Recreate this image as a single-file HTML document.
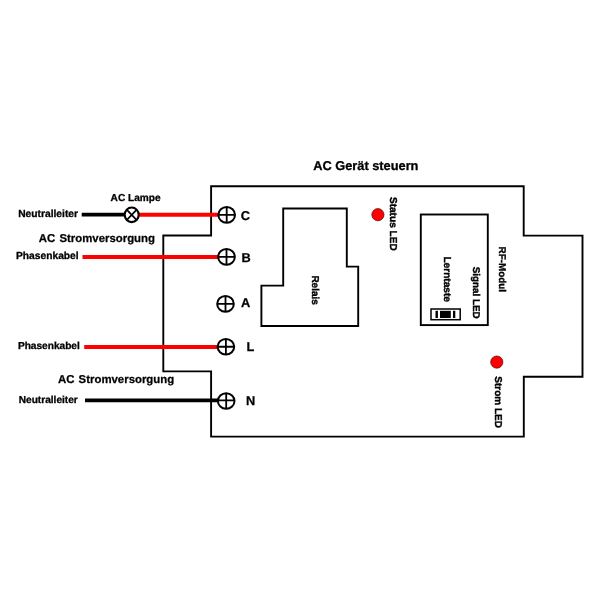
<!DOCTYPE html>
<html lang="de">
<head>
<meta charset="utf-8">
<title>AC Gerät steuern</title>
<style>
html,body{margin:0;padding:0;background:#fff;}
body{width:600px;height:600px;overflow:hidden;}
svg{display:block;will-change:transform;}
text{font-family:"Liberation Sans",Arial,sans-serif;font-weight:bold;fill:#000;text-rendering:geometricPrecision;stroke:#000;stroke-width:0.4px;stroke-linejoin:round;}
.s{font-size:10.25px;stroke-width:0.3px;}
.r{font-size:10px;}
.m{font-size:11.4px;stroke-width:0.25px;}
.t{font-size:12.8px;stroke-width:0.3px;}
.l{font-size:12.8px;stroke-width:0.25px;}
</style>
</head>
<body>
<svg width="600" height="600" viewBox="0 0 600 600">
<rect width="600" height="600" fill="#fff"/>
<!-- outline -->
<g fill="none" stroke="#000" stroke-width="1.9" stroke-linejoin="miter">
<path d="M211.1 186.2 H523.7 V235.6 H582.5 V376.8 H523.8 V436.6 H211.1 V371.4 H163.3 V235.5 H211.1 Z"/>
<path d="M283.2 208.5 H346.8 V266.6 H358.2 V326 H261.4 V285.6 H283.2 Z"/>
<rect x="420.8" y="214.5" width="67" height="110.6"/>
</g>
<!-- wires -->
<g fill="none" stroke-linecap="butt">
<line x1="81.7" y1="214.7" x2="125" y2="214.7" stroke="#000" stroke-width="3.7"/>
<line x1="138" y1="214.75" x2="219" y2="214.75" stroke="#f00" stroke-width="4"/>
<line x1="82.5" y1="257" x2="218" y2="257" stroke="#f00" stroke-width="4"/>
<line x1="84.2" y1="347.1" x2="218" y2="347.1" stroke="#f00" stroke-width="4"/>
<line x1="85" y1="400.35" x2="218" y2="400.35" stroke="#000" stroke-width="3.6"/>
</g>
<!-- lamp -->
<g fill="#fff" stroke="#000" stroke-width="2.1">
<ellipse cx="131.7" cy="214.8" rx="7" ry="7.3"/>
<path d="M126.9 209.8 L136.5 219.8 M136.5 209.8 L126.9 219.8" fill="none" stroke-width="1.7"/>
</g>
<!-- terminals -->
<g fill="#fff" stroke="#000" stroke-width="2">
<g><ellipse cx="226.7" cy="214.9" rx="8.3" ry="7.85"/><path d="M226.7 207.05 V222.75 M218.40 214.9 H235.00" fill="none" stroke-width="1.8"/></g>
<g><ellipse cx="226.5" cy="256.9" rx="8.3" ry="7.85"/><path d="M226.5 249.05 V264.75 M218.20 256.9 H234.80" fill="none" stroke-width="1.8"/></g>
<g><ellipse cx="225.5" cy="303.9" rx="8.3" ry="7.85"/><path d="M225.5 296.05 V311.75 M217.20 303.9 H233.80" fill="none" stroke-width="1.8"/></g>
<g><ellipse cx="225.9" cy="346.75" rx="8.3" ry="7.85"/><path d="M225.9 338.90 V354.60 M217.60 346.75 H234.20" fill="none" stroke-width="1.8"/></g>
<g><ellipse cx="226.2" cy="401" rx="8.3" ry="7.85"/><path d="M226.2 393.15 V408.85 M217.90 400.4 H234.50" fill="none" stroke-width="1.8"/></g>
</g>
<!-- LEDs -->
<circle cx="377.9" cy="214.7" r="6.1" fill="#f00" stroke="#500" stroke-width="0.7"/>
<circle cx="496.8" cy="362.1" r="6.1" fill="#f00" stroke="#500" stroke-width="0.7"/>
<!-- button -->
<rect x="431" y="309" width="29.2" height="10.7" fill="#fff" stroke="#000" stroke-width="1.5"/>
<rect x="440" y="310.8" width="10.8" height="7.2" fill="#000"/>
<rect x="435.5" y="310.8" width="2.4" height="7.2" fill="#000"/>
<rect x="453" y="310.8" width="2.3" height="7.2" fill="#000"/>
<!-- texts -->
<text class="t" x="313.2" y="169.9">AC Gerät steuern</text>
<text class="s" x="110.6" y="200.5" style="font-size:10.1px">AC Lampe</text>
<text class="s" x="18.2" y="217">Neutralleiter</text>
<text class="m" x="38.8" y="242.4" word-spacing="1">AC Stromversorgung</text>
<text class="s" x="16" y="259.3">Phasenkabel</text>
<text class="s" x="17.9" y="348.5" style="font-size:10.15px">Phasenkabel</text>
<text class="m" x="58" y="383.4" word-spacing="1">AC Stromversorgung</text>
<text class="s" x="18.7" y="403.4" style="font-size:10.15px">Neutralleiter</text>
<text class="l" x="240.7" y="219.6">C</text>
<text class="l" x="241.6" y="262">B</text>
<text class="l" x="241" y="307.2">A</text>
<text class="l" x="246.4" y="350.5">L</text>
<text class="l" x="245.9" y="405.2">N</text>
<g class="r">
<text transform="translate(390.1 196.9) rotate(90)" style="font-size:10.1px">Status LED</text>
<text transform="translate(311.9 275.4) rotate(90)">Relais</text>
<text transform="translate(443.8 256.4) rotate(90)" style="font-size:10.15px">Lerntaste</text>
<text transform="translate(472.8 266.7) rotate(90)" style="font-size:9.85px">Signal LED</text>
<text transform="translate(499 246.6) rotate(90)" style="font-size:9.85px">RF-Modul</text>
<text transform="translate(495 376.3) rotate(90)">Strom LED</text>
</g>
</svg>
</body>
</html>
